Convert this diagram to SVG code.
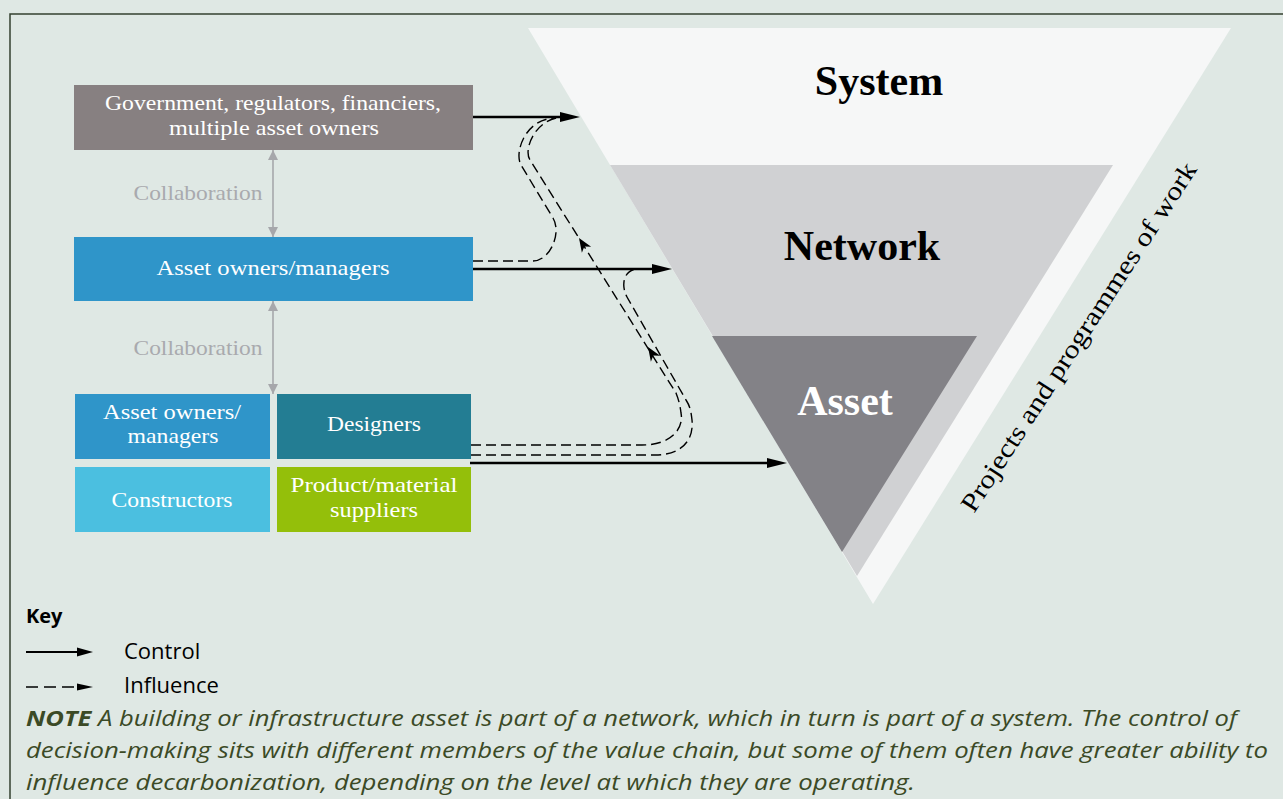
<svg xmlns="http://www.w3.org/2000/svg" width="1283" height="799" viewBox="0 0 1283 799">
<defs>
<style>
.lbl{font-family:"Liberation Serif","DejaVu Serif",serif;font-size:22px;fill:#ffffff;text-anchor:middle}
.collab{font-family:"Liberation Serif","DejaVu Serif",serif;font-size:22px;fill:#a9aaae;text-anchor:middle}
.title{font-family:"Liberation Serif","DejaVu Serif",serif;font-weight:bold;font-size:42px;text-anchor:middle}
.ctrl{stroke:#000;stroke-width:2.5;fill:none;marker-end:url(#ah)}
.infl{stroke:#000;stroke-width:1.4;fill:none;stroke-dasharray:10 5}
.col{stroke:#a6a7ab;stroke-width:1.6;fill:none;marker-start:url(#ga);marker-end:url(#ga)}
.key{font-family:"Open Sans","Noto Sans",sans-serif;font-size:22px;fill:#000}
.note{font-family:"Open Sans","Noto Sans",sans-serif;font-style:italic;font-size:22px;fill:#3b4a26}
</style>
<marker id="ah" markerUnits="userSpaceOnUse" markerWidth="20" markerHeight="10" viewBox="0 0 20 10" refX="8" refY="5" orient="auto"><path d="M0,0 L20,5 L0,10 z" fill="#000"/></marker>
<marker id="ga" markerUnits="userSpaceOnUse" markerWidth="10" markerHeight="10" viewBox="0 0 10 10" refX="10" refY="5" orient="auto-start-reverse"><path d="M0,0 L10,5 L0,10 z" fill="#a6a7ab"/></marker>
<path id="sa" d="M0,0 L-14,-5.5 L-10,0 L-14,5.5 z" fill="#000"/>
</defs>
<rect x="0" y="0" width="1283" height="799" fill="#dfe8e4"/>
<path d="M10,799 V14 H1283" fill="none" stroke="#34402f" stroke-width="1.5"/>

<g id="pyramid">
<polygon points="528,28 1231,28 873,604" fill="#f6f7f7"/>
<polygon points="610,165 1113,165 857,576" fill="#d0d1d3"/>
<polygon points="712,336 977,336 842,552" fill="#838287"/>
<text class="title" x="879" y="95" fill="#000">System</text>
<text class="title" x="862" y="260" fill="#000">Network</text>
<text class="title" x="845" y="415" fill="#fff">Asset</text>
<text x="0" y="0" transform="translate(974,514) rotate(-57)" font-family="Liberation Serif, DejaVu Serif, serif" font-size="26" fill="#000" textLength="411" lengthAdjust="spacingAndGlyphs">Projects and programmes of work</text>
</g>

<g id="gov">
<rect x="74" y="85" width="399" height="65" fill="#878081"/>
<text class="lbl" x="273" y="110" textLength="336" lengthAdjust="spacingAndGlyphs">Government, regulators, financiers,</text>
<text class="lbl" x="274" y="135" textLength="210" lengthAdjust="spacingAndGlyphs">multiple asset owners</text>
</g>

<g id="owners">
<rect x="74" y="237" width="399" height="64" fill="#2f95c9"/>
<text class="lbl" x="273" y="275" textLength="233" lengthAdjust="spacingAndGlyphs">Asset owners/managers</text>
</g>

<g id="owners2">
<rect x="75" y="394" width="195" height="65" fill="#2f95c9"/>
<text class="lbl" x="172" y="419" textLength="138" lengthAdjust="spacingAndGlyphs">Asset owners/</text>
<text class="lbl" x="173" y="443" textLength="91" lengthAdjust="spacingAndGlyphs">managers</text>
</g>

<g id="designers">
<rect x="277" y="394" width="194" height="65" fill="#237d93"/>
<text class="lbl" x="374" y="431" textLength="94" lengthAdjust="spacingAndGlyphs">Designers</text>
</g>

<g id="constructors">
<rect x="75" y="467" width="195" height="65" fill="#4bbfe0"/>
<text class="lbl" x="172" y="507" textLength="121" lengthAdjust="spacingAndGlyphs">Constructors</text>
</g>

<g id="suppliers">
<rect x="277" y="467" width="194" height="65" fill="#94bf0a"/>
<text class="lbl" x="374" y="492" textLength="167" lengthAdjust="spacingAndGlyphs">Product/material</text>
<text class="lbl" x="374" y="517" textLength="88" lengthAdjust="spacingAndGlyphs">suppliers</text>
</g>

<g id="connectors">
<line class="col" x1="273" y1="150" x2="273" y2="237"/>
<text class="collab" x="198" y="200" textLength="129" lengthAdjust="spacingAndGlyphs">Collaboration</text>
<line class="col" x1="273" y1="301" x2="273" y2="394"/>
<text class="collab" x="198" y="355" textLength="129" lengthAdjust="spacingAndGlyphs">Collaboration</text>

<line class="ctrl" x1="473" y1="117" x2="568" y2="117"/>
<line class="ctrl" x1="473" y1="269" x2="660" y2="269"/>
<line class="ctrl" x1="470" y1="463" x2="775" y2="463"/>

<path class="infl" d="M473,261 H533 C550,261 562,233 553,218 L521,165 C514,153 525,118 556,118"/>
<path class="infl" d="M471,445 H642 C672,445 684,428 681,413 C680,404 678,398 676,393 L530,160 C523,150 535,117 565,117"/>
<path class="infl" d="M471,455 H655 C682,455 694,440 692,420 C691,411 690,406 686,400 L627,297 C621,286 623,271 636,269"/>
<use href="#sa" transform="translate(579,238) rotate(-122.5)"/>
<use href="#sa" transform="translate(648,347) rotate(-122.5)"/>
</g>

<g id="key">
<text x="26" y="623" font-family="Open Sans, Noto Sans, sans-serif" font-weight="bold" font-size="20" fill="#000">Key</text>
<line x1="26" y1="652" x2="80" y2="652" stroke="#000" stroke-width="2"/>
<path d="M77,647.5 L93,652 L77,656.5 z" fill="#000"/>
<text class="key" x="124" y="659">Control</text>
<line x1="26" y1="687" x2="78" y2="687" stroke="#000" stroke-width="1.5" stroke-dasharray="12 6"/>
<path d="M77,683.5 L93,687 L77,690.5 z" fill="#000"/>
<text class="key" x="124" y="693">Influence</text>
</g>

<g id="note">
<text class="note" x="26" y="726" textLength="1211" lengthAdjust="spacingAndGlyphs"><tspan font-weight="bold">NOTE</tspan> A building or infrastructure asset is part of a network, which in turn is part of a system. The control of</text>
<text class="note" x="26" y="758" textLength="1242" lengthAdjust="spacingAndGlyphs">decision-making sits with different members of the value chain, but some of them often have greater ability to</text>
<text class="note" x="26" y="790" textLength="889" lengthAdjust="spacingAndGlyphs">influence decarbonization, depending on the level at which they are operating.</text>
</g>
</svg>
